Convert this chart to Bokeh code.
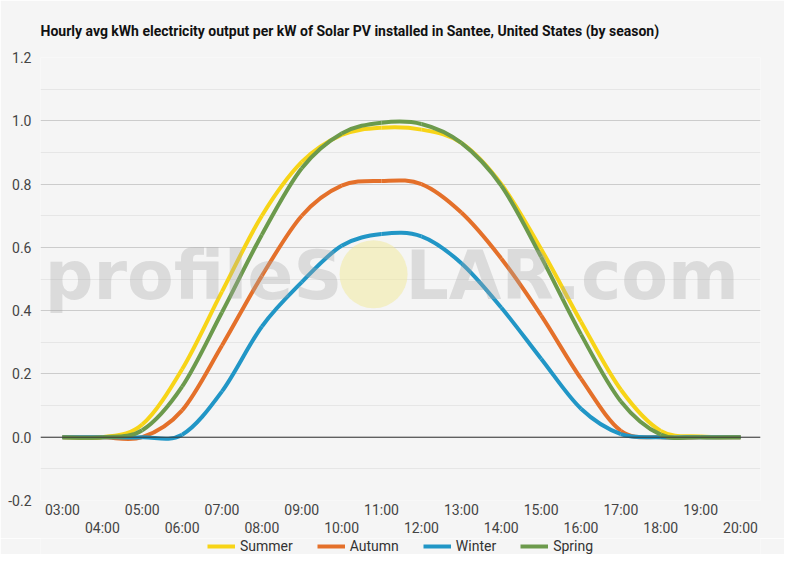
from bokeh.plotting import figure
from bokeh.layouts import column
from bokeh.models import (LinearAxis, FixedTicker, Span, Legend, LegendItem,
                          Range1d, ColumnDataSource)
from bokeh.core.properties import value
from bokeh.embed import file_html
from bokeh.resources import INLINE

# ---------------- data ----------------
hours = list(range(3, 21))
hour_labels = [f"{h:02d}:00" for h in hours]

summer = [0, 0, 0.04, 0.215, 0.46, 0.70, 0.87, 0.955, 0.978, 0.972, 0.93, 0.80, 0.595, 0.365, 0.15, 0.02, 0.002, 0]
autumn = [0, 0, 0, 0.085, 0.29, 0.51, 0.70, 0.795, 0.81, 0.80, 0.71, 0.565, 0.385, 0.185, 0.02, 0, 0, 0]
winter = [0, 0, 0, 0.008, 0.145, 0.35, 0.49, 0.605, 0.642, 0.635, 0.55, 0.41, 0.248, 0.09, 0.01, 0, 0, 0]
spring = [0, 0, 0.022, 0.16, 0.395, 0.64, 0.85, 0.96, 0.994, 0.99, 0.93, 0.795, 0.57, 0.325, 0.113, 0.008, 0, 0]

series_names = ["Summer", "Autumn", "Winter", "Spring"]
series_values = [summer, autumn, winter, spring]
series_colors = ["#f7d417", "#e4702a", "#2196c6", "#6c9a4c"]

y_ticks = [-0.2, 0.0, 0.2, 0.4, 0.6, 0.8, 1.0, 1.2]
y_tick_labels = ["-0.2", "0.0", "0.2", "0.4", "0.6", "0.8", "1.0", "1.2"]
y_minor = [-0.1, 0.1, 0.3, 0.5, 0.7, 0.9, 1.1]

title_text = "Hourly avg kWh electricity output per kW of Solar PV installed in Santee, United States (by season)"

FONT = "Roboto"
BG = "#f5f5f5"
LABEL_COLOR = "#444444"

# ---------------- main figure ----------------
p = figure(frame_width=720, frame_height=443, output_backend="svg", toolbar_location=None,
           x_range=Range1d(2.45, 20.5), y_range=Range1d(-0.2, 1.2),
           background_fill_color=BG, border_fill_color=BG, outline_line_color=None,
           min_border_left=40, min_border_right=24, min_border_top=57, min_border_bottom=0)

p.title.text = title_text
p.title.text_font = FONT
p.title.text_font_size = "14px"
p.title.text_font_style = "bold"
p.title.text_color = "#111111"
p.title.align = "left"
p.title.standoff = 38

# grid
p.xgrid.visible = False
p.ygrid.ticker = FixedTicker(ticks=y_ticks, minor_ticks=y_minor)
p.ygrid.grid_line_color = "#cccccc"
p.ygrid.minor_grid_line_color = "#e6e6e6"

# y axis
yax = p.yaxis[0]
yax.ticker = FixedTicker(ticks=y_ticks)
yax.major_label_overrides = {t: l for t, l in zip(y_ticks, y_tick_labels)}
yax.axis_line_color = None
yax.major_tick_line_color = None
yax.minor_tick_line_color = None
yax.major_label_text_font = FONT
yax.major_label_text_font_size = "14px"
yax.major_label_text_color = LABEL_COLOR
yax.major_label_standoff = 3

# x axes (staggered labels)
odd_h = hours[0::2]
even_h = hours[1::2]
lab = dict(zip(hours, hour_labels))

def style_x(ax, ticks, standoff):
    ax.ticker = FixedTicker(ticks=ticks)
    ax.major_label_overrides = {h: lab[h] for h in ticks}
    ax.axis_line_color = None
    ax.major_tick_line_color = None
    ax.minor_tick_line_color = None
    ax.major_label_text_font = FONT
    ax.major_label_text_font_size = "14px"
    ax.major_label_text_color = LABEL_COLOR
    ax.major_label_standoff = standoff

style_x(p.xaxis[0], odd_h, -5)
ax2 = LinearAxis()
style_x(ax2, even_h, -7)
p.add_layout(ax2, "below")

# zero line
p.add_layout(Span(location=0, dimension="width", line_color="#333333", line_width=1))

# ---------------- smooth curves (cubic Bezier segments through data points) ----------------
def bezier_source(xs, ys):
    n = len(xs)
    d = dict(x0=[], y0=[], x1=[], y1=[], cx0=[], cy0=[], cx1=[], cy1=[])
    for i in range(n - 1):
        im = max(i - 1, 0)
        ip2 = min(i + 2, n - 1)
        d["x0"].append(xs[i]); d["y0"].append(ys[i])
        d["x1"].append(xs[i + 1]); d["y1"].append(ys[i + 1])
        d["cx0"].append(xs[i] + (xs[i + 1] - xs[im]) / 6.0)
        d["cy0"].append(ys[i] + (ys[i + 1] - ys[im]) / 6.0)
        d["cx1"].append(xs[i + 1] - (xs[ip2] - xs[i]) / 6.0)
        d["cy1"].append(ys[i + 1] - (ys[ip2] - ys[i]) / 6.0)
    return ColumnDataSource(d)

for name, vals, col in zip(series_names, series_values, series_colors):
    p.bezier(x0="x0", y0="y0", x1="x1", y1="y1", cx0="cx0", cy0="cy0",
             cx1="cx1", cy1="cy1", source=bezier_source(hours, vals),
             line_color=col, line_width=4)

# ---------------- watermark ----------------
p.scatter(x=[10.80], y=[0.515], size=68, marker="circle",
          fill_color="#f2ea98", fill_alpha=0.5, line_color=None)
p.text(x=[10.02, 11.60], y=[0.51, 0.51], text=["profileS", "LAR.com"],
       text_align=["right", "left"], text_baseline="middle",
       text_font=value("DejaVu Sans"), text_font_style="bold", text_font_size="68px",
       text_color="#a8a8a8", text_alpha=0.33)

# ---------------- legend strip ----------------
# the series lines are repeated here only to carry the legend; this strip's
# ranges keep them out of view, so only the legend samples show.
pl = figure(width=784, height=16, output_backend="svg", toolbar_location=None,
            x_range=Range1d(0, 1), y_range=Range1d(0, 1),
            x_axis_location=None, y_axis_location=None,
            background_fill_color=BG, border_fill_color=BG, outline_line_color=None,
            min_border_left=0, min_border_right=0, min_border_top=0, min_border_bottom=0)
pl.grid.visible = False
items = []
for name, vals, col in zip(series_names, series_values, series_colors):
    r = pl.line(x=hours, y=vals, line_color=col, line_width=4)
    items.append(LegendItem(label=name, renderers=[r]))
legend = Legend(items=items, orientation="horizontal", location=(167, 0),
                label_text_font=FONT, label_text_font_size="14px",
                label_text_color="#333333", glyph_width=28, glyph_height=16,
                label_height=16, label_standoff=5, spacing=24, padding=0, margin=0,
                border_line_color=None, background_fill_alpha=0)
pl.add_layout(legend, "center")

layout = column(p, pl, spacing=0)
open("out.html", "w").write(file_html(layout, INLINE))
